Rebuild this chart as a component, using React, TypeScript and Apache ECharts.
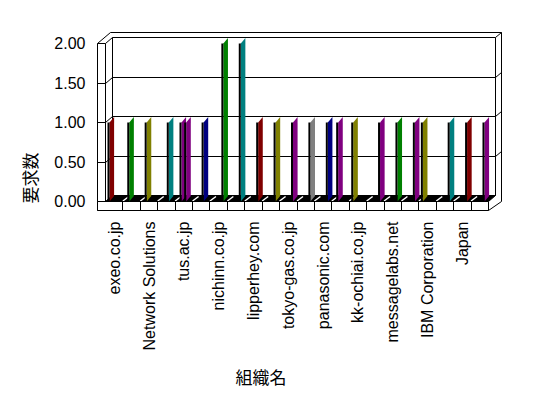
import React, { useEffect, useRef } from "react";
import * as echarts from "echarts";

// Organisation names (category axis); the unlabeled in-between categories are unknown
const categories = [
  "exeo.co.jp", "", "Network Solutions", "", "tus.ac.jp", "", "nichinn.co.jp", "",
  "lipperhey.com", "", "tokyo-gas.co.jp", "", "panasonic.com", "", "kk-ochiai.co.jp", "",
  "messagelabs.net", "", "IBM Corporation", "", "Japan", "",
];

// One entry per drawn bar
const barCategory = [0, 1, 2, 3, 4, 4, 5, 6, 7, 8, 9, 10, 11, 12, 13, 14, 15, 16, 17, 18, 19, 20, 21];
const barValue = [1, 1, 1, 1, 1, 1, 1, 2, 2, 1, 1, 1, 1, 1, 1, 1, 1, 1, 1, 1, 1, 1, 1];
const barSlot = [0, 1, 1, 3, 1, 3, 3, 4, 4, 4, 4, 4, 4, 4, 1, 0, 4, 4, 4, 0, 4, 4, 4];
const barColor = [
  "#800000", "#008000", "#808000", "#008080", "#800080", "#800080", "#000080", "#008000",
  "#008080", "#800000", "#808000", "#800080", "#808080", "#000080", "#800080", "#808000",
  "#800080", "#008000", "#800080", "#808000", "#008080", "#800000", "#800080",
];
const gridValues = [0.5, 1, 1.5];

const yAxisTitle = "要求数";
const xAxisTitle = "組織名";

const LATIN = "'Liberation Sans', Arial, sans-serif";
const CJK = "'Noto Sans CJK JP', sans-serif";

const crisp = (v: number) => Math.floor(v) + 0.5;

const DX = 7;
const DY = -6;
const TW = 8;
const BX = 6;
const BY = -5;
const FT = 9;

function frameRender(params: any, api: any) {
  const cs = params.coordSys;
  const gx = cs.x;
  const gy = cs.y;
  const gw = cs.width;
  const gh = cs.height;
  const yb = gy + gh;
  const cw = gw / categories.length;
  const stroke = { stroke: "#000", lineWidth: 1, fill: "none" };
  const ln = (x1: number, y1: number, x2: number, y2: number, color = "#000", w = 1) => ({
    type: "line",
    shape: { x1, y1, x2, y2 },
    style: { stroke: color, lineWidth: w },
  });
  const children: any[] = [];
  // outer silhouette
  children.push({
    type: "polygon",
    shape: {
      points: [
        [gx - TW, gy],
        [gx - TW + DX + BX, gy + DY + BY],
        [gx + gw + DX + BX, gy + DY + BY],
        [gx + gw + DX + BX, yb],
        [gx + gw, yb + FT],
        [gx - TW, yb + FT],
      ],
    },
    style: { fill: "#fff", stroke: "#000", lineWidth: 1 },
  });
  // back wall face
  children.push({
    type: "rect",
    shape: { x: gx + DX, y: gy + DY, width: gw, height: gh },
    style: stroke,
  });
  // back slab top-right diagonal
  children.push(ln(gx + gw + DX, gy + DY, gx + gw + DX + BX, gy + DY + BY));
  // left wall
  children.push(ln(gx, gy, gx, yb));
  children.push(ln(gx, gy, gx + DX, gy + DY));
  children.push(ln(gx - TW, gy, gx, gy));
  // gridlines
  gridValues.forEach((v) => {
    const y = crisp(api.coord([0, v])[1]);
    children.push(ln(gx - TW, y, gx, y));
    children.push(ln(gx, y, gx + DX, y + DY));
    children.push(ln(gx + DX, y + DY, gx + gw + DX, y + DY));
    children.push(ln(gx + gw + DX, y + DY, gx + gw + DX + BX, y + DY + BY));
  });
  // floor top (black)
  children.push({
    type: "polygon",
    shape: {
      points: [
        [gx, yb],
        [gx + gw, yb],
        [gx + gw + DX, yb + DY],
        [gx + DX, yb + DY],
      ],
    },
    style: { fill: "#000", stroke: "#000", lineWidth: 1 },
  });
  for (let i = 1; i < categories.length; i++) {
    const x = gx + i * cw;
    children.push(ln(x, yb - 0.5, x + DX - 1, yb + DY + 1, "#fff", 1.5));
  }
  // floor front face
  children.push({
    type: "rect",
    shape: { x: gx - TW, y: yb, width: gw + TW, height: FT },
    style: { fill: "#fff", stroke: "#000", lineWidth: 1 },
  });
  for (let i = 1; i < categories.length; i++) {
    const x = crisp(gx + i * cw);
    children.push(ln(x, yb, x, yb + FT));
  }
  return { type: "group", children };
}

function barRender(params: any, api: any) {
  const cat = api.value(0);
  const v = api.value(1);
  const slot = api.value(2);
  const top = api.coord([cat, v]);
  const base = api.coord([cat, 0]);
  const cw = api.size([1, 0])[0];
  const L = top[0] - cw / 2 + 2 + 2.35 * slot;
  const FW = 2;
  const SDX = 4.6;
  const SDY = 5.4;
  return {
    type: "group",
    children: [
      {
        type: "polygon",
        shape: {
          points: [
            [L + FW, top[1]],
            [L + FW + SDX, top[1] - SDY],
            [L + FW + SDX, base[1] - SDY],
            [L + FW, base[1]],
          ],
        },
        style: { fill: api.visual("color") },
      },
      {
        type: "rect",
        shape: { x: L, y: top[1], width: FW, height: base[1] - top[1] },
        style: { fill: "#000" },
      },
    ],
  };
}

export default function App() {
  const ref = useRef<HTMLDivElement>(null);
  useEffect(() => {
    if (!ref.current) return;
    const chart = echarts.init(ref.current, null, { renderer: "svg" });
    const barData = barCategory.map((c, i) => ({
      value: [c, barValue[i], barSlot[i]],
      itemStyle: { color: barColor[i] },
    }));
    chart.setOption({
      animation: false,
      backgroundColor: "#fff",
      grid: { left: 105.5, top: 43.5, width: 383, height: 158 },
      xAxis: {
        type: "category",
        data: categories,
        axisLine: { show: false },
        axisTick: { show: false },
        splitLine: { show: false },
        axisLabel: {
          interval: 0,
          rotate: 90,
          margin: 20,
          fontSize: 16,
          fontFamily: LATIN,
          color: "#000",
        },
      },
      yAxis: {
        type: "value",
        min: 0,
        max: 2,
        interval: 0.5,
        axisLine: { show: false },
        axisTick: { show: false },
        splitLine: { show: false },
        axisLabel: {
          margin: 20,
          fontSize: 16,
          fontFamily: LATIN,
          color: "#000",
          formatter: (v: number) => v.toFixed(2),
        },
      },
      graphic: [
        {
          type: "text",
          x: 29,
          y: 178,
          rotation: Math.PI / 2,
          style: {
            text: yAxisTitle,
            fontSize: 17,
            fontFamily: CJK,
            fill: "#000",
            align: "center",
            verticalAlign: "middle",
          },
        },
        {
          type: "text",
          x: 261,
          y: 376,
          style: {
            text: xAxisTitle,
            fontSize: 17,
            fontFamily: CJK,
            fill: "#000",
            align: "center",
            verticalAlign: "middle",
          },
        },
      ],
      series: [
        {
          type: "custom",
          name: "frame",
          coordinateSystem: "cartesian2d",
          data: [[0, 0]],
          encode: { x: 0, y: 1 },
          renderItem: frameRender,
          z: 1,
          silent: true,
          clip: false,
        },
        {
          type: "custom",
          name: yAxisTitle,
          coordinateSystem: "cartesian2d",
          data: barData,
          encode: { x: 0, y: 1 },
          renderItem: barRender,
          z: 2,
          clip: false,
        },
      ],
    });
    return () => chart.dispose();
  }, []);
  return (
    <div
      ref={ref}
      style={{ position: "absolute", left: 0, top: 0, width: 548, height: 398 }}
    />
  );
}
